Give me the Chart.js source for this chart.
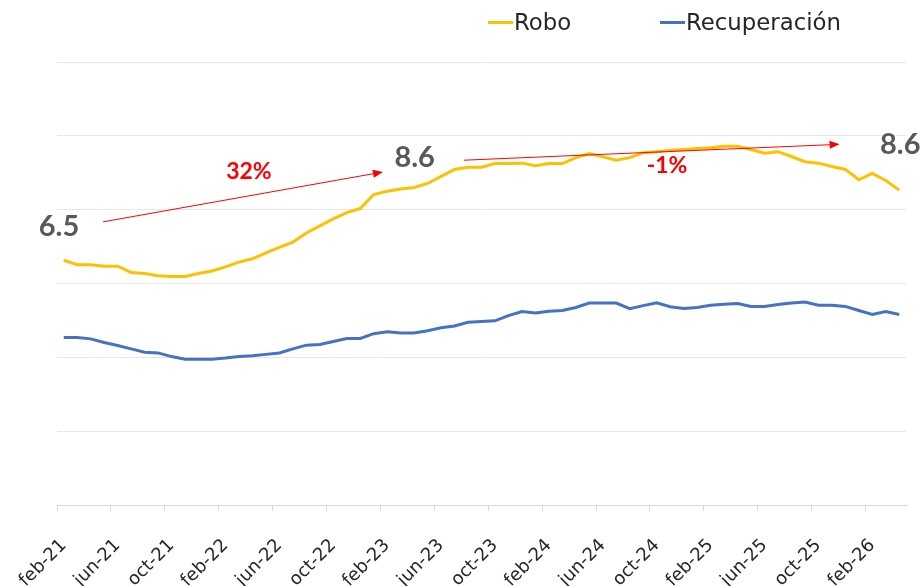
<!DOCTYPE html>
<html lang="es">
<head>
  <meta charset="UTF-8">
  <title>Robo vs Recuperación</title>
  <script src="https://cdn.jsdelivr.net/npm/chart.js"></script>
  <style>
    body {
      margin: 0;
      background: #ffffff;
      font-family: 'DejaVu Sans', sans-serif;
    }
    .wrap {
      position: relative;
      width: 924px;
      height: 586px;
      overflow: hidden;
    }
    .legend-item {
      position: absolute;
      top: 9px;
      font-size: 22.8px;
      color: #262626;
      line-height: 26px;
      white-space: nowrap;
    }
    .legend-item .swatch {
      display: inline-block;
      width: 25px;
      height: 3px;
      vertical-align: middle;
      margin-right: 1px;
      margin-top: -2px;
    }
    .robo { left: 488px; }
    .recu { left: 660px; }
  </style>
</head>
<body>

<div class="wrap">
  <canvas id="chart"></canvas>
  <div class="legend-item robo"><span class="swatch" style="background:#FFC000"></span>Robo</div>
  <div class="legend-item recu"><span class="swatch" style="background:#4472C4"></span>Recuperación</div>
</div>

<script>
// monthly series, feb-21 .. apr-26
const monthNames = ['ene', 'feb', 'mar', 'abr', 'may', 'jun', 'jul', 'ago', 'sep', 'oct', 'nov', 'dic'];
const firstMonth = 1, firstYear = 21, nMonths = 63;

const robo = [6.63, 6.51, 6.51, 6.47, 6.47, 6.30, 6.27, 6.21, 6.19, 6.19, 6.27, 6.34, 6.45, 6.58, 6.67, 6.83,
  6.98, 7.12, 7.37, 7.56, 7.75, 7.92, 8.03, 8.41, 8.50, 8.56, 8.60, 8.71, 8.90, 9.09, 9.15, 9.15,
  9.25, 9.25, 9.26, 9.19, 9.25, 9.25, 9.41, 9.52, 9.43, 9.34, 9.41, 9.54, 9.57, 9.61, 9.63, 9.66,
  9.68, 9.72, 9.72, 9.63, 9.53, 9.57, 9.44, 9.30, 9.26, 9.17, 9.09, 8.81, 8.98, 8.79, 8.53];

const recuperacion = [4.54, 4.54, 4.50, 4.40, 4.32, 4.23, 4.14, 4.12, 4.02, 3.95, 3.95, 3.95, 3.98, 4.02, 4.04, 4.08,
  4.12, 4.23, 4.33, 4.35, 4.43, 4.51, 4.51, 4.64, 4.69, 4.66, 4.66, 4.72, 4.80, 4.85, 4.95, 4.97,
  4.99, 5.13, 5.24, 5.20, 5.25, 5.27, 5.35, 5.47, 5.47, 5.47, 5.32, 5.40, 5.48, 5.37, 5.32, 5.35,
  5.41, 5.44, 5.46, 5.38, 5.38, 5.43, 5.47, 5.50, 5.41, 5.41, 5.38, 5.27, 5.16, 5.24, 5.16];

// y axis (labels hidden in the original)
const yMin = 0, yMax = 12, yStep = 2;

// callouts: [category index, value]
const valueNotes = [
  { text: '6.5', at: [-0.35, 7.58] },
  { text: '8.6', at: [26.04, 9.44] },
  { text: '8.6', at: [62.07, 9.78] }
];
const changeNotes = [
  { text: '32%', at: [13.74, 9.07] },
  { text: '-1%', at: [44.77, 9.23] }
];
const arrows = [
  { from: [2.92, 7.67], to: [23.69, 9.02] },
  { from: [29.70, 9.34], to: [57.57, 9.77] }
];

const labels = [];
for (let i = 0; i < nMonths; i++) {
  const m = firstMonth + i;
  labels.push(monthNames[m % 12] + '-' + (firstYear + Math.floor(m / 12)));
}

const notesPlugin = {
  id: 'notes',
  afterDatasetsDraw(chart) {
    const ctx = chart.ctx;
    const xs = chart.scales.x, ys = chart.scales.y;
    const px = p => [xs.getPixelForValue(p[0]), ys.getPixelForValue(p[1])];
    ctx.save();

    // red arrows
    ctx.strokeStyle = '#FF0000';
    ctx.fillStyle = '#FF0000';
    ctx.lineWidth = 1;
    arrows.forEach(a => {
      const [x1, y1] = px(a.from);
      const [x2, y2] = px(a.to);
      const ang = Math.atan2(y2 - y1, x2 - x1);
      const len = 10, half = 4;
      const bx = x2 - len * Math.cos(ang), by = y2 - len * Math.sin(ang);
      ctx.beginPath();
      ctx.moveTo(x1, y1);
      ctx.lineTo(bx, by);
      ctx.stroke();
      ctx.beginPath();
      ctx.moveTo(x2, y2);
      ctx.lineTo(bx + half * Math.sin(ang), by - half * Math.cos(ang));
      ctx.lineTo(bx - half * Math.sin(ang), by + half * Math.cos(ang));
      ctx.closePath();
      ctx.fill();
    });

    ctx.textAlign = 'center';
    ctx.textBaseline = 'middle';

    ctx.fillStyle = '#595959';
    ctx.font = 'bold 29px Lato, sans-serif';
    valueNotes.forEach(n => {
      const [x, y] = px(n.at);
      ctx.fillText(n.text, x, y + 1);
    });

    ctx.fillStyle = '#FF0000';
    ctx.font = 'bold 23px Lato, sans-serif';
    changeNotes.forEach(n => {
      const [x, y] = px(n.at);
      ctx.fillText(n.text, x, y + 1);
    });

    ctx.restore();
  }
};

new Chart(document.getElementById('chart'), {
  type: 'line',
  data: {
    labels: labels,
    datasets: [
      {
        label: 'Robo',
        data: robo,
        borderColor: '#FFC000',
        backgroundColor: '#FFC000',
        borderWidth: 3,
        pointRadius: 0,
        tension: 0
      },
      {
        label: 'Recuperación',
        data: recuperacion,
        borderColor: '#4472C4',
        backgroundColor: '#4472C4',
        borderWidth: 3,
        pointRadius: 0,
        tension: 0
      }
    ]
  },
  options: {
    responsive: true,
    maintainAspectRatio: false,
    animation: false,
    layout: { padding: { left: 57, right: 18, top: 62, bottom: 0 } },
    plugins: {
      legend: { display: false },
      tooltip: { enabled: false }
    },
    scales: {
      x: {
        offset: true,
        grid: {
          offset: true,
          drawOnChartArea: false,
          drawTicks: true,
          tickLength: 6,
          color: c => (c.type === 'tick' && c.index % 4 === 0) ? '#d9d9d9' : 'rgba(0,0,0,0)'
        },
        border: { display: true, color: '#d9d9d9', width: 1 },
        ticks: {
          autoSkip: false,
          maxRotation: 45,
          minRotation: 45,
          padding: 24,
          color: '#262626',
          font: { family: 'DejaVu Sans', size: 18 },
          callback: (v, i) => i % 4 === 0 ? labels[i] : ''
        },
        afterFit: s => {
          // keep the plot area fixed; labels may run off the bottom like the original
          s.height = 81;
          s.paddingLeft = 0;
          s.paddingRight = 0;
        }
      },
      y: {
        min: yMin,
        max: yMax,
        ticks: { stepSize: yStep, display: false },
        grid: { color: '#e6e6e6', drawTicks: false },
        border: { display: false }
      }
    }
  },
  plugins: [notesPlugin]
});
</script>

</body>
</html>
